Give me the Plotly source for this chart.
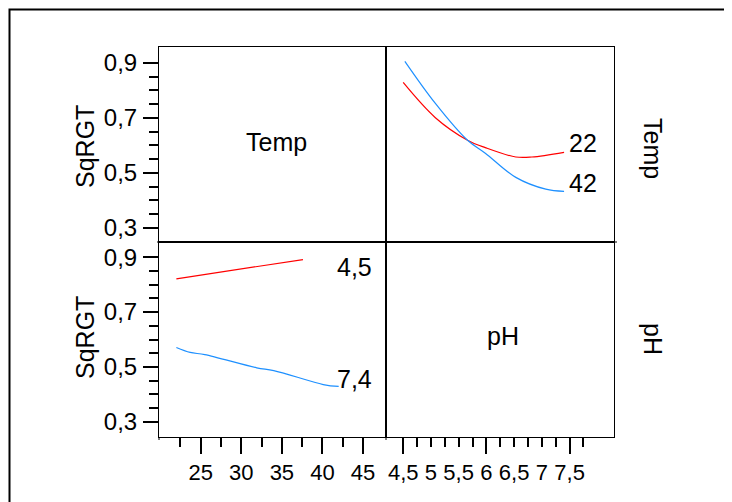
import plotly.graph_objects as go

# ---- data ----
ph_t22 = [4.5, 5.08, 5.66, 5.98, 6.53, 6.82, 7.4]
sq_t22 = [0.829, 0.701, 0.619, 0.592, 0.558, 0.558, 0.575]
ph_t42 = [4.53, 5.08, 5.66, 5.98, 6.53, 7.07, 7.4]
sq_t42 = [0.906, 0.753, 0.619, 0.572, 0.484, 0.441, 0.433]

temp_ph45 = [22, 37.6]
sq_ph45 = [0.821, 0.891]
temp_ph74 = [22, 23.7, 25.5, 31.9, 34.0, 40.1, 42]
sq_ph74 = [0.571, 0.553, 0.545, 0.497, 0.487, 0.436, 0.429]

y_ticks = [0.3, 0.5, 0.7, 0.9]
y_ticktext = ["0,3", "0,5", "0,7", "0,9"]
y_minor = [0.35, 0.4, 0.45, 0.55, 0.6, 0.65, 0.75, 0.8, 0.85]

temp_ticks = [25, 30, 35, 40, 45]
temp_minor = [22.5, 27.5, 32.5, 37.5, 42.5]

ph_ticks = [4.5, 5, 5.5, 6, 6.5, 7, 7.5]
ph_ticktext = ["4,5", "5", "5,5", "6", "6,5", "7", "7,5"]
ph_minor = [4.75, 5.25, 5.75, 6.25, 6.75, 7.25, 7.75]
ph_long = [4.5, 6, 7.5]

RED = "#ff0000"
BLUE = "#1e90ff"
FONT = "Liberation Sans, Arial, sans-serif"
OFF = 8  # page body margin
W, H = 732 - OFF, 502 - OFF

def px(x):
    return (x - OFF) / W

def py(y):
    return (H - (y - OFF)) / H

xl, xm, xr = px(159), px(386), px(614)
yt, ym, yb = py(47), py(242), py(437)

YR = [0.249, 0.958]
YR2 = [0.245, 0.955]
PHR = [4.19, 8.30]
TR = [19.86, 47.83]

fig = go.Figure()
fig.add_trace(go.Scatter(x=ph_t22, y=sq_t22, mode="lines", line=dict(color=RED, width=1.2),
                         xaxis="x2", yaxis="y2", line_shape="spline", showlegend=False))
fig.add_trace(go.Scatter(x=ph_t42, y=sq_t42, mode="lines", line=dict(color=BLUE, width=1.2),
                         xaxis="x2", yaxis="y2", line_shape="spline", showlegend=False))
fig.add_trace(go.Scatter(x=temp_ph45, y=sq_ph45, mode="lines", line=dict(color=RED, width=1.2),
                         xaxis="x3", yaxis="y3", showlegend=False))
fig.add_trace(go.Scatter(x=temp_ph74, y=sq_ph74, mode="lines", line=dict(color=BLUE, width=1.2),
                         xaxis="x3", yaxis="y3", line_shape="spline", showlegend=False))
fig.add_trace(go.Scatter(x=[None], y=[None], xaxis="x", yaxis="y", showlegend=False))
fig.add_trace(go.Scatter(x=[None], y=[None], xaxis="x4", yaxis="y4", showlegend=False))
fig.add_trace(go.Scatter(x=[None], y=[None], xaxis="x5", yaxis="y4", showlegend=False))

frame = dict(showline=True, mirror=True, linecolor="black", linewidth=1,
             showgrid=False, zeroline=False)
ytickfont = dict(family=FONT, size=24, color="black")
xtickfont = dict(family=FONT, size=22, color="black")

yax = dict(frame, ticks="outside", ticklen=15, tickwidth=1.5, tickcolor="black",
           tickvals=y_ticks, ticktext=y_ticktext, tickfont=ytickfont, ticklabelstandoff=1,
           minor=dict(tickvals=y_minor, ticks="outside", ticklen=9, tickwidth=1.5, tickcolor="black"))

fig.update_layout(
    width=W, height=H,
    margin=dict(l=0, r=0, t=0, b=0),
    paper_bgcolor="white", plot_bgcolor="white",
    font=dict(family=FONT, color="black"),
    xaxis=dict(frame, domain=[xl, xm], anchor="y", range=[0, 1], showticklabels=False, ticks=""),
    yaxis=dict(yax, domain=[ym, yt], anchor="x", range=YR),
    xaxis2=dict(frame, domain=[xm, xr], anchor="y2", range=PHR, showticklabels=False, ticks=""),
    yaxis2=dict(frame, domain=[ym, yt], anchor="x2", range=YR, showticklabels=False, ticks=""),
    xaxis3=dict(frame, domain=[xl, xm], anchor="y3", range=TR,
                ticks="outside", ticklen=16, tickwidth=1.5, tickcolor="black",
                tickvals=temp_ticks, tickfont=xtickfont,
                minor=dict(tickvals=temp_minor, ticks="outside", ticklen=9, tickwidth=1.5, tickcolor="black")),
    yaxis3=dict(yax, domain=[yb, ym], anchor="x3", range=YR2),
    xaxis4=dict(frame, domain=[xm, xr], anchor="y4", range=PHR,
                ticks="outside", ticklen=9, tickwidth=1.5, tickcolor="black",
                tickvals=ph_ticks, ticktext=ph_ticktext, tickfont=xtickfont, ticklabelstandoff=7,
                minor=dict(tickvals=ph_minor, ticks="outside", ticklen=9, tickwidth=1.5, tickcolor="black")),
    xaxis5=dict(overlaying="x4", anchor="y4", side="bottom", range=PHR, showgrid=False, zeroline=False,
                showline=False, ticks="outside", ticklen=16, tickwidth=1.5, tickcolor="black",
                tickvals=ph_long, showticklabels=False),
    yaxis4=dict(frame, domain=[yb, ym], anchor="x4", range=YR2, showticklabels=False, ticks=""),
    shapes=[
        dict(type="rect", xref="paper", yref="paper", x0=px(9.5), x1=1.05, y0=-0.05, y1=py(9.5),
             line=dict(color="black", width=2)),
        dict(type="line", xref="paper", yref="paper", x0=xr, x1=px(617), y0=ym, y1=ym,
             line=dict(color="black", width=1)),
        dict(type="line", xref="paper", yref="paper", x0=px(157), x1=xl, y0=ym, y1=ym,
             line=dict(color="black", width=1)),
        dict(type="line", xref="paper", yref="paper", x0=xm, x1=xm, y0=yb, y1=py(440),
             line=dict(color="black", width=1)),
        dict(type="line", xref="paper", yref="paper", x0=xl, x1=xl, y0=yb, y1=py(440),
             line=dict(color="black", width=1)),
    ],
)

big = dict(family=FONT, size=25, color="black")
panel = dict(family=FONT, size=25, color="black")
side = dict(family=FONT, size=25, color="black")
C = dict(xref="paper", yref="paper", showarrow=False, xanchor="center", yanchor="middle")
anns = [
    dict(C, text="Temp", x=px(276), y=py(142), font=panel),
    dict(C, text="pH", x=px(503), y=py(336), font=panel),
    dict(C, text="Temp", x=px(653), y=py(148), font=side, textangle=90),
    dict(C, text="pH", x=px(653), y=py(339), font=side, textangle=90),
    dict(C, text="SqRGT", x=px(85), y=py(147), font=big, textangle=-90),
    dict(C, text="SqRGT", x=px(85), y=py(338), font=big, textangle=-90),
    dict(text="22", x=7.46, y=0.608, xref="x2", yref="y2", xanchor="left", yanchor="middle", showarrow=False, font=big),
    dict(text="42", x=7.46, y=0.463, xref="x2", yref="y2", xanchor="left", yanchor="middle", showarrow=False, font=big),
    dict(text="4,5", x=41.55, y=0.865, xref="x3", yref="y3", xanchor="left", yanchor="middle", showarrow=False, font=big),
    dict(text="7,4", x=41.55, y=0.455, xref="x3", yref="y3", xanchor="left", yanchor="middle", showarrow=False, font=big),
]
fig.update_layout(annotations=anns)

fig.write_html("out.html")
